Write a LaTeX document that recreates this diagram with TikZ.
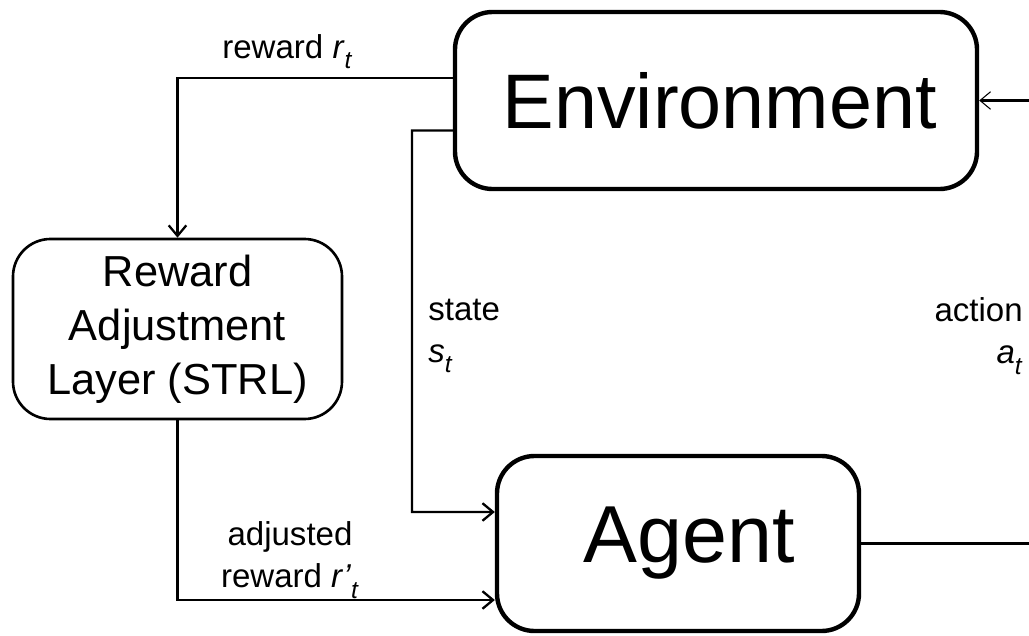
\documentclass[tikz,border=0pt]{standalone}
\usepackage{fontspec}
\setsansfont{Liberation Sans}
\usetikzlibrary{arrows.meta,positioning,calc}
\newcommand{\symsub}[2]{\textit{#1}\raisebox{-0.6ex}{\fontsize{14}{14}\selectfont\textit{#2}}}

\begin{document}
\begin{tikzpicture}[font=\sffamily,>={Straight Barb[length=6pt,width=10pt,line width=1.3pt]},
  bigbox/.style={draw,line width=2.5pt,rounded corners=0.75cm,align=center,inner sep=0pt},
  lbl/.style={font=\sffamily\fontsize{18.8}{24}\selectfont,inner sep=0pt},
  flow/.style={->,line width=1.4pt}]
\useasboundingbox (0,0) rectangle (20.58,-12.7);
\node[bigbox,minimum width=10.44cm,minimum height=3.54cm,font=\sffamily\fontsize{44}{50}\selectfont] (env) at (14.32,-2.01) {\hspace*{0.15cm}Environment};
\node[bigbox,line width=1.5pt,minimum width=6.58cm,minimum height=3.6cm,font=\sffamily\fontsize{24.7}{30.7}\selectfont] (rwd) at (3.55,-6.58) {Reward\\Adjustment\\Layer (STRL)};
\node[bigbox,minimum width=7.24cm,minimum height=3.5cm,font=\sffamily\fontsize{46}{52}\selectfont] (agent) at (13.56,-10.87) {\hspace*{0.45cm}Agent};
% bend of the state line, and the turn of the action loop (off the page)
\coordinate (sbend) at (8.24,-10.24);
\coordinate (turn) at (21.3,-10.87);
\node[lbl,anchor=base west] (rlab) at (4.44,-1.16) {reward \symsub{r}{t}};
\node[lbl,anchor=west,align=left] (slab) at (8.56,-6.72) {state\\\symsub{s}{t}};
\node[lbl,anchor=east,align=right] (alab) at (20.46,-6.72) {action\\\symsub{a}{t}};
\node[lbl,align=center] (adjlab) at (5.8,-11.2) {adjusted\\reward \symsub{r’}{t}};
\draw[flow] ([yshift=0.45cm]env.west) -| (rwd.north);
\draw[flow] ([yshift=-0.6cm]env.west) -| (sbend) -- ([yshift=0.63cm]agent.west);
\draw[flow] (rwd.south) |- ([yshift=-1.13cm]agent.west);
\draw[line width=1.4pt,-{Straight Barb[length=6pt,width=10pt,line width=0.6pt]}] (agent.east) -- (turn) |- (env.east);
\end{tikzpicture}
\end{document}
